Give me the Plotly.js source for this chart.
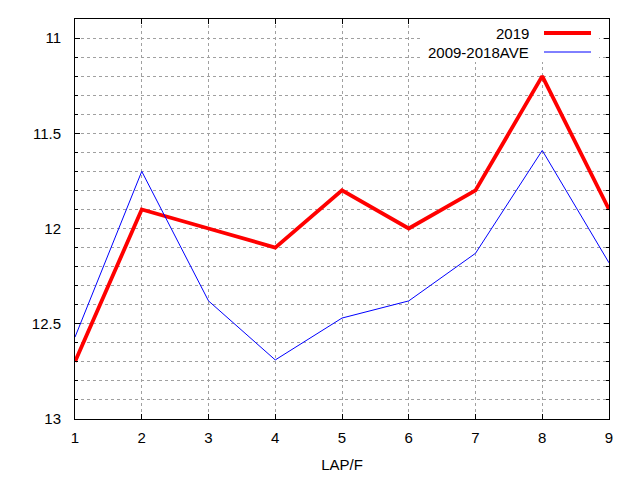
<!DOCTYPE html>
<html>
<head>
<meta charset="utf-8">
<script src="https://cdn.plot.ly/plotly-3.0.1.min.js"></script>
<style>
  body { margin: 0; background: #fff; }
  #chart { width: 640px; height: 480px; }
</style>
</head>
<body>
<div id="chart"></div>
<script>
// lap number
var laps = [1, 2, 3, 4, 5, 6, 7, 8, 9];
// 2019 lap times
var y2019 = [12.7, 11.9, 12.0, 12.1, 11.8, 12.0, 11.8, 11.2, 11.9];
// 2009-2018 average
var yAve = [12.57, 11.70, 12.38, 12.69, 12.47, 12.38, 12.13, 11.59, 12.18];

var names = ['2019', '2009-2018AVE'];

var font = {family: 'Liberation Sans, Arial, sans-serif', size: 15, color: '#000'};

var data = [
	{
		x: laps,
		y: y2019,
		type: 'scatter',
		mode: 'lines',
		name: names[0],
		line: {color: '#ff0000', width: 3.8},
		showlegend: false
	},
	{
		x: laps,
		y: yAve,
		type: 'scatter',
		mode: 'lines',
		name: names[1],
		line: {color: '#0000ff', width: 1},
		showlegend: false
	}
];

var layout = {
	width: 640,
	height: 480,
	font: font,
	paper_bgcolor: '#fff',
	plot_bgcolor: '#fff',
	margin: {l: 75, r: 31, t: 19, b: 61},
	xaxis: {
		range: [1, 9],
		dtick: 1,
		tick0: 1,
		ticks: 'inside',
		ticklen: 5,
		tickcolor: '#000',
		ticklabelstandoff: 5,
		showline: true,
		linecolor: '#000',
		linewidth: 1,
		mirror: 'ticks',
		showgrid: true,
		gridcolor: '#a0a0a0',
		griddash: 'dot',
		gridwidth: 1,
		zeroline: false,
		title: {text: 'LAP/F', font: font, standoff: 14}
	},
	yaxis: {
		range: [13, 10.9],
		dtick: 0.5,
		tick0: 11,
		ticks: 'inside',
		ticklen: 5,
		tickcolor: '#000',
		ticklabelstandoff: 10,
		showline: true,
		linecolor: '#000',
		linewidth: 1,
		mirror: 'ticks',
		showgrid: true,
		gridcolor: '#a0a0a0',
		griddash: 'dot',
		gridwidth: 1,
		zeroline: false,
		minor: {
			dtick: 0.1,
			ticks: 'inside',
			ticklen: 3,
			tickcolor: '#000',
			showgrid: true,
			gridcolor: '#a0a0a0',
			griddash: 'dot',
			gridwidth: 1
		}
	},
	shapes: [
		// legend box background
		{type: 'rect', xref: 'paper', yref: 'paper',
		 x0: (423 - 75) / 534, x1: (599 - 75) / 534, y0: (419 - 62) / 400, y1: 1,
		 fillcolor: '#fff', line: {width: 0}, layer: 'above'},
		{type: 'line', xref: 'paper', yref: 'paper',
		 x0: (544 - 75) / 534, x1: (591 - 75) / 534, y0: (419 - 33) / 400, y1: (419 - 33) / 400,
		 line: {color: '#ff0000', width: 3.8}},
		{type: 'line', xref: 'paper', yref: 'paper',
		 x0: (544 - 75) / 534, x1: (591 - 75) / 534, y0: (419 - 52) / 400, y1: (419 - 52) / 400,
		 line: {color: '#0000ff', width: 1}}
	],
	annotations: [
		{text: names[0], xref: 'paper', yref: 'paper', x: (531 - 75) / 534, y: (419 - 33) / 400,
		 xanchor: 'right', yanchor: 'middle', showarrow: false, font: font},
		{text: names[1], xref: 'paper', yref: 'paper', x: (531 - 75) / 534, y: (419 - 52) / 400,
		 xanchor: 'right', yanchor: 'middle', showarrow: false, font: font}
	]
};

var config = {staticPlot: true, displayModeBar: false};

Plotly.newPlot('chart', data, layout, config);
</script>
</body>
</html>
